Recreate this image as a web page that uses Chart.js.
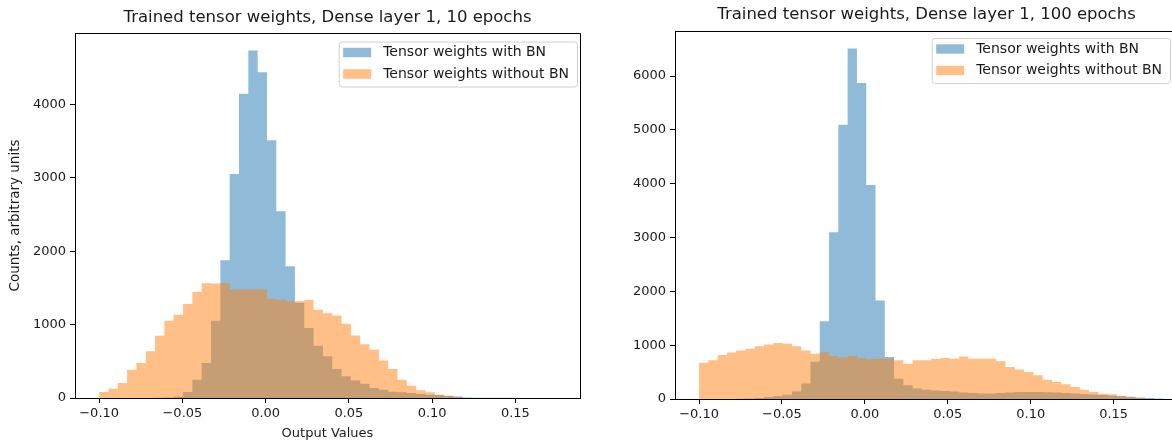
<!DOCTYPE html>
<html>
<head>
<meta charset="utf-8">
<title>Trained tensor weights</title>
<script src="https://cdn.jsdelivr.net/npm/chart.js@4/dist/chart.umd.min.js"></script>
<style>
  html, body { margin: 0; padding: 0; background: #fff; overflow: hidden; }
  body { width: 1172px; height: 444px; position: relative; }
  canvas { position: absolute; top: 0; }
  #chart10 { left: 0; }
  #chart100 { left: 600px; }
</style>
</head>
<body>
<canvas id="chart10" width="600" height="444"></canvas>
<canvas id="chart100" width="600" height="444"></canvas>
<script>
// Histogram bins (shared by both plots): 50 bins starting at -0.1
const binStart = -0.1;
const binWidth = 0.0056;

const seriesLabels = ['Tensor weights with BN', 'Tensor weights without BN'];
const xTicks = [-0.10, -0.05, 0.00, 0.05, 0.10, 0.15];
const yTicks10 = [0, 1000, 2000, 3000, 4000];
const yTicks100 = [0, 1000, 2000, 3000, 4000, 5000, 6000];

// 10 epochs, counts per bin
const withBN10 = [0, 0, 0, 0, 0, 0, 3, 8, 22, 82,
  250, 477, 1055, 1877, 3056, 4147, 4738, 4442, 3515, 2546,
  1795, 1300, 955, 713, 568, 395, 295, 240, 195, 136,
  113, 86, 77, 68, 55, 45, 41, 31, 22, 8,
  5, 4, 3, 2, 2, 1, 1, 1, 1, 1];
const withoutBN10 = [82, 127, 205, 386, 477, 636, 850, 1055, 1136, 1282,
  1446, 1565, 1560, 1569, 1478, 1478, 1478, 1478, 1355, 1340,
  1318, 1318, 1335, 1205, 1155, 1125, 1014, 852, 732, 659,
  511, 395, 250, 168, 104, 80, 45, 27, 13, 0,
  0, 0, 0, 0, 0, 0, 0, 0, 0, 0];

// 100 epochs, counts per bin
const withBN100 = [0, 0, 0, 2, 5, 10, 20, 35, 55, 80,
  140, 290, 690, 1447, 3098, 5096, 6512, 5870, 3978, 1831,
  779, 378, 254, 193, 174, 160, 150, 140, 120, 110,
  100, 100, 110, 120, 130, 130, 130, 125, 120, 110,
  100, 95, 85, 75, 60, 50, 40, 30, 20, 10];
const withoutBN100 = [675, 718, 816, 866, 903, 935, 978, 1015, 1039, 1027,
  978, 903, 842, 868, 800, 770, 800, 760, 745, 750,
  749, 718, 656, 718, 718, 749, 760, 749, 792, 749,
  749, 749, 700, 593, 550, 501, 439, 359, 316, 273,
  223, 174, 130, 99, 87, 56, 37, 18, 6, 0];

const FONT = "'DejaVu Sans', sans-serif";
const TEXT = '#1a1a1a';
const BLUE = 'rgba(31, 119, 180, 0.5)';
const ORANGE = 'rgba(255, 127, 14, 0.5)';

// turn per-bin counts into a stepped outline (left edge of each bin + closing edge)
function steps(counts) {
  const pts = counts.map((c, i) => ({ x: binStart + i * binWidth, y: c }));
  pts.push({ x: binStart + counts.length * binWidth, y: 0 });
  return pts;
}

// title, top/right frame and matplotlib style legend
const decor = {
  id: 'decor',
  afterDraw(chart, args, opts) {
    const { ctx, chartArea: a } = chart;
    ctx.save();

    ctx.strokeStyle = '#000';
    ctx.lineWidth = 1;
    ctx.beginPath();
    ctx.moveTo(Math.round(a.left) + 0.5, Math.round(a.top) + 0.5);
    ctx.lineTo(Math.round(a.right) + 0.5, Math.round(a.top) + 0.5);
    ctx.lineTo(Math.round(a.right) + 0.5, Math.round(a.bottom) + 0.5);
    ctx.stroke();

    ctx.fillStyle = TEXT;
    ctx.font = '16.5px ' + FONT;
    ctx.textAlign = 'center';
    ctx.textBaseline = 'middle';
    ctx.fillText(opts.title, (a.left + a.right) / 2, opts.titleY);

    ctx.font = '14px ' + FONT;
    const tw = Math.max(...seriesLabels.map(t => ctx.measureText(t).width));
    const w = 4.5 + 28 + 12 + tw + 8;
    const h = 45;
    const right = opts.legendRight;
    const left = right - w;
    const top = opts.legendTop;
    ctx.beginPath();
    ctx.roundRect(left + 0.5, top + 0.5, w, h, 3);
    ctx.fillStyle = 'rgba(255,255,255,0.8)';
    ctx.fill();
    ctx.strokeStyle = '#d0d0d0';
    ctx.stroke();

    [BLUE, ORANGE].forEach((col, i) => {
      const yc = top + 11 + i * 21.5;
      ctx.fillStyle = col;
      ctx.fillRect(left + 4.5, yc - 4.7, 28, 9.4);
      ctx.fillStyle = TEXT;
      ctx.textAlign = 'left';
      ctx.fillText(seriesLabels[i], left + 44.5, yc);
    });
    ctx.restore();
  }
};

function fmtX(v) {
  return (v < -1e-9 ? '\u2212' : '') + Math.abs(v).toFixed(2);
}

function makeChart(id, withBN, withoutBN, yTicks, yMax, cfg) {
  const tickFont = { family: FONT, size: 13 };
  return new Chart(document.getElementById(id), {
    type: 'line',
    data: {
      datasets: [{
        label: seriesLabels[0],
        data: steps(withBN),
        backgroundColor: BLUE,
        borderColor: 'rgba(0,0,0,0)',
        fill: 'origin',
        stepped: 'before',
        order: 1
      }, {
        label: seriesLabels[1],
        data: steps(withoutBN),
        backgroundColor: ORANGE,
        borderColor: 'rgba(0,0,0,0)',
        fill: 'origin',
        stepped: 'before',
        order: 0
      }]
    },
    options: {
      responsive: false,
      animation: false,
      devicePixelRatio: 1,
      layout: { padding: { left: 0, top: cfg.padTop, right: cfg.padRight, bottom: 0 } },
      elements: { point: { radius: 0 }, line: { borderWidth: 0, tension: 0 } },
      plugins: {
        legend: { display: false },
        tooltip: { enabled: false },
        decor: cfg.decor
      },
      scales: {
        x: {
          type: 'linear',
          min: -0.1145,
          max: 0.1888,
          afterBuildTicks: s => { s.ticks = xTicks.map(v => ({ value: v })); },
          afterFit: s => { s.height = cfg.xHeight; },
          ticks: { callback: v => fmtX(v), font: tickFont, color: TEXT, padding: 3, maxRotation: 0, autoSkip: false },
          grid: { drawOnChartArea: false, tickLength: 5, color: '#000' },
          border: { color: '#000', width: 1 },
          title: {
            display: !!cfg.xTitle, text: cfg.xTitle || '', color: TEXT,
            font: { family: FONT, size: 13 }, padding: { top: 0, bottom: 3 }
          }
        },
        y: {
          min: 0,
          max: yMax,
          afterBuildTicks: s => { s.ticks = yTicks.map(v => ({ value: v })); },
          afterFit: s => { s.width = 75; },
          ticks: { callback: v => String(v), font: tickFont, color: TEXT, padding: 4 },
          grid: { drawOnChartArea: false, tickLength: 5, color: '#000' },
          border: { color: '#000', width: 1 },
          title: {
            display: !!cfg.yTitle, text: cfg.yTitle || '', color: TEXT,
            font: { family: FONT, size: 13.5 }, padding: { top: 7, bottom: 0 }
          }
        }
      }
    },
    plugins: [decor]
  });
}

makeChart('chart10', withBN10, withoutBN10, yTicks10, 4977, {
  padTop: 33, padRight: 20, xHeight: 46,
  xTitle: 'Output Values', yTitle: 'Counts, arbitrary units',
  decor: { title: 'Trained tensor weights, Dense layer 1, 10 epochs', titleY: 18, legendRight: 577, legendTop: 41.5 }
});

makeChart('chart100', withBN100, withoutBN100, yTicks100, 6838, {
  padTop: 31, padRight: 22, xHeight: 45,
  decor: { title: 'Trained tensor weights, Dense layer 1, 100 epochs', titleY: 15, legendRight: 570, legendTop: 38 }
});
</script>
</body>
</html>
